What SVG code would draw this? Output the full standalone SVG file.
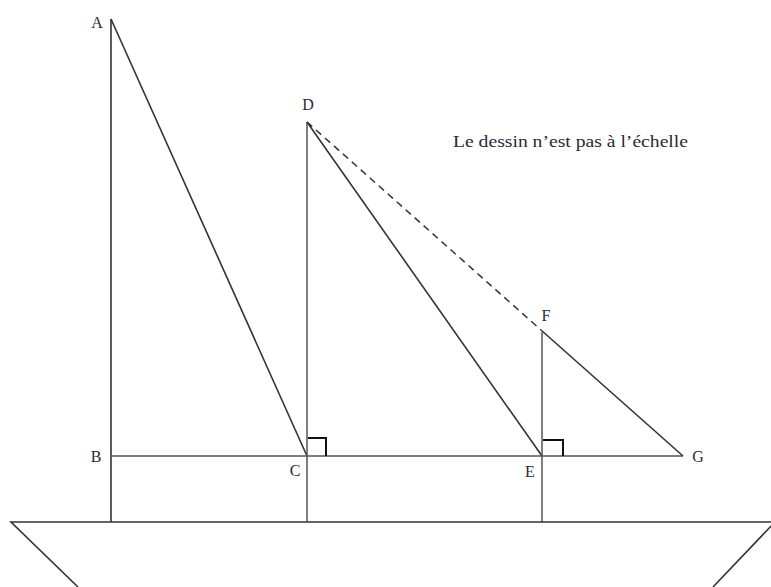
<svg xmlns="http://www.w3.org/2000/svg" width="771" height="587" viewBox="0 0 771 587">
<style>
.l{stroke:#333;stroke-width:1.6;fill:none}
.g{stroke:#555;stroke-width:1.5;fill:none}
.d{stroke:#333;stroke-width:1.5;fill:none;stroke-dasharray:7,5}
.r{stroke:#111;stroke-width:2;fill:none}
text{font-family:"Liberation Serif","DejaVu Serif",serif;font-size:16px;fill:#2a2a35}
</style>
<rect width="771" height="587" fill="#fff"/>
<g id="connectors">
<line class="l" x1="111" y1="19" x2="111" y2="522"/>
<line class="l" x1="111" y1="19" x2="307" y2="456"/>
<line class="g" x1="111" y1="456" x2="683" y2="456"/>
<line class="g" x1="307" y1="122" x2="307" y2="522"/>
<line class="l" x1="307" y1="122" x2="542" y2="456"/>
<line class="d" x1="307" y1="122" x2="541" y2="330"/>
<line class="l" x1="541" y1="330" x2="683" y2="456"/>
<line class="g" x1="542" y1="332" x2="542" y2="522"/>
<polyline class="r" points="308,438 326,438 326,456"/>
<polyline class="r" points="543,440 563,440 563,456"/>
</g>
<g id="boat">
<polyline class="l" points="78,587 11,522 775,522 713,587"/>
</g>
<g id="A"><text x="97" y="28" text-anchor="middle">A</text></g>
<g id="B"><text x="96" y="462" text-anchor="middle">B</text></g>
<g id="C"><text x="295" y="476" text-anchor="middle">C</text></g>
<g id="D"><text x="308" y="110" text-anchor="middle">D</text></g>
<g id="E"><text x="530" y="477" text-anchor="middle">E</text></g>
<g id="F"><text x="546" y="321" text-anchor="middle">F</text></g>
<g id="G"><text x="698" y="462" text-anchor="middle">G</text></g>
<g id="note"><text x="453" y="147" textLength="235" lengthAdjust="spacingAndGlyphs">Le dessin n’est pas à l’échelle</text></g>
</svg>
